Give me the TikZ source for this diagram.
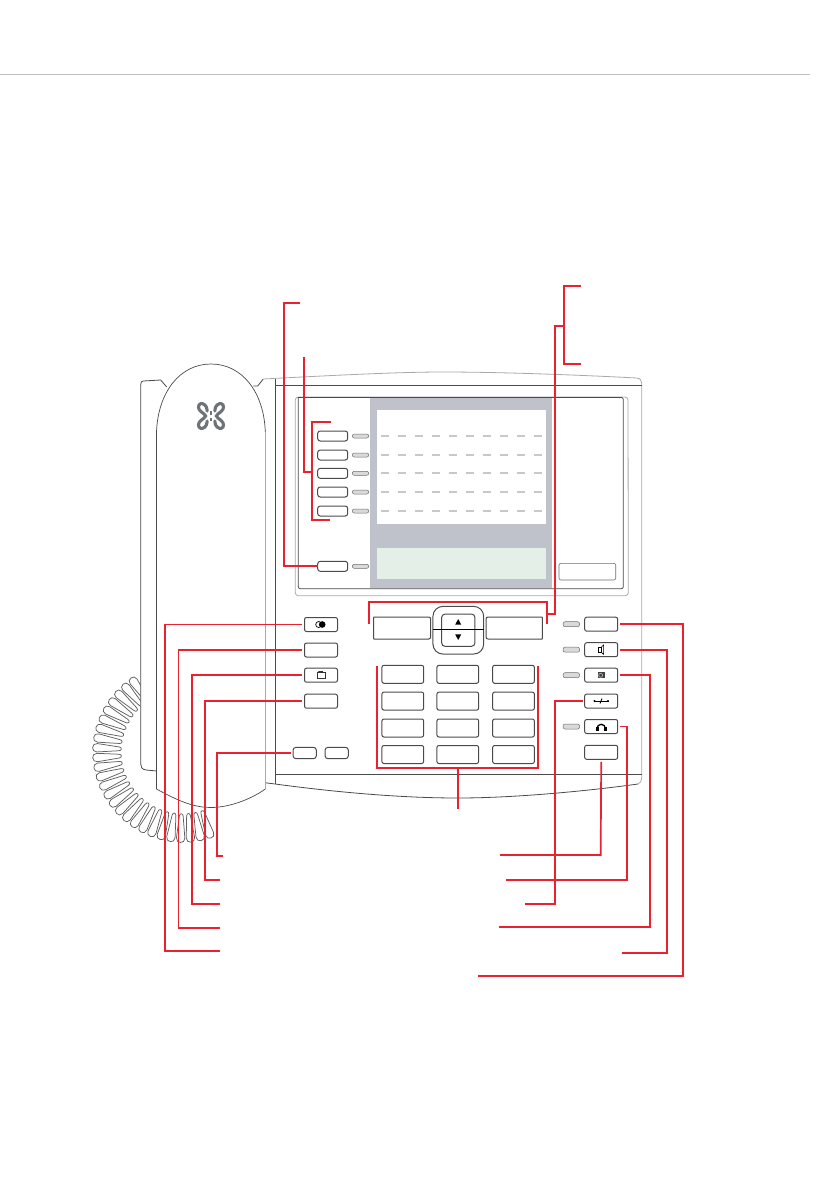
\documentclass[tikz,border=0pt]{standalone}
\definecolor{redl}{HTML}{E8232F}
\definecolor{ink}{HTML}{4A4A4A}
\definecolor{pale}{HTML}{A9A9A9}
\definecolor{screen}{HTML}{BFC1CB}
\definecolor{dashc}{HTML}{C6C8D0}
\definecolor{lcd}{HTML}{E3EFE7}
\definecolor{ledf}{HTML}{D9D9D9}
\definecolor{logoc}{HTML}{6D7378}
\tikzset{
  redline/.style={draw=redl,line width=1.7pt},
  outline/.style={draw=ink,line width=.8pt},
  paleline/.style={draw=pale,line width=.8pt},
  keybox/.style={draw=ink,line width=1pt,rounded corners=2pt,fill=white,inner sep=0pt,outer sep=0pt,minimum width=33pt,minimum height=14pt},
  padkey/.style={keybox,minimum width=41.7pt,minimum height=18pt},
  sidekey/.style={keybox,minimum width=30pt,minimum height=10pt,rounded corners=2.5pt},
  smallkey/.style={keybox,minimum width=23.3pt,minimum height=11.4pt,rounded corners=3pt},
  ledbox/.style={draw=ink!80,line width=.5pt,fill=ledf,rounded corners=2pt,inner sep=0pt,outer sep=0pt,minimum width=16.5pt,minimum height=4pt},
  ledwide/.style={ledbox,minimum height=5pt},
  dashrow/.style={draw=dashc,line width=1.8pt,dash pattern=on 8.3pt off 8.7pt},
  coilloop/.style={draw=black!62,line width=.75pt,fill=white},
  iconline/.style={draw=black,line width=.9pt},
  logoline/.style={draw=logoc,line width=3.1pt,line cap=round}
}
\begin{document}
\begin{tikzpicture}[x=1pt,y=-1pt]
\useasboundingbox (0,0) rectangle (839,1193);
\fill[white] (0,0) rectangle (839,1193);
\draw[draw=black!25,line width=.8pt] (0,74) -- (810,74);

% coiled cord
\foreach \a in {0,...,25}{
  \pgfmathsetmacro{\ang}{125+6.52*\a}
  \begin{scope}[shift={(183,752)},rotate=\ang]
    \draw[coilloop] (64,-1.9) -- (86,-4.2) .. controls (92,-4.7) and (92,4.7) .. (86,4.2) -- (64,1.9) .. controls (61,1.6) and (61,-1.6) .. (64,-1.9) -- cycle;
  \end{scope}
}

% body
\fill[white] (140.7,385) .. controls (140.7,382) and (141.5,381) .. (143.3,381) -- (160.7,380) -- (166.7,387) -- (253.3,386) -- (257.7,386) -- (263.3,379) .. controls (340,375) and (400,372) .. (443,372) .. controls (500,372) and (580,375) .. (636.7,378) .. controls (640,378.5) and (641.7,380) .. (641.7,383) -- (641.7,778) .. controls (641.7,781) and (640,783.5) .. (638,784) .. controls (580,792) and (510,798) .. (458,798) .. controls (390,798) and (320,790) .. (275,784) -- (265,782.7) -- (265,789) -- (156.5,789) -- (156.5,771) -- (146,770) .. controls (142,769.5) and (140.7,767) .. (140.7,764) -- cycle;
\draw[outline] (140.7,764) -- (140.7,385) .. controls (140.7,382) and (141.5,381) .. (143.3,381) -- (160.7,380) -- (166.7,387);
\draw[outline] (140.7,764) .. controls (140.7,767) and (142,769.5) .. (146,770) -- (156.5,771);
\draw[outline] (253.3,386) -- (257.7,386) -- (263.3,379);
\draw[paleline] (263.3,379) .. controls (340,375) and (400,372) .. (443,372) .. controls (500,372) and (580,375) .. (636.7,378);
\draw[paleline] (636.7,378) .. controls (640,378.5) and (641.7,380) .. (641.7,383) -- (641.7,778) .. controls (641.7,781) and (640,783.5) .. (638,784);
\draw[outline] (638,784) .. controls (580,792) and (510,798) .. (458,798) .. controls (390,798) and (320,790) .. (275,784) -- (265,782.7);
\draw[outline] (275.7,379) -- (275.7,784);
\draw[outline] (275.7,385.3) -- (641.7,385.3);
\draw[outline] (275.7,774.3) -- (641.7,774.3);

% handset
\fill[white] (156.5,432) .. controls (158,392) and (180,364) .. (211,364) .. controls (242,364) and (264,392) .. (265.3,432) -- (265.3,789) .. controls (250,800) and (228,807.5) .. (211,807.5) .. controls (195,807.5) and (180,802) .. (156.5,789) -- cycle;
\draw[outline,line width=.7pt] (156.5,789) -- (156.5,432) .. controls (158,392) and (180,364) .. (211,364) .. controls (242,364) and (264,392) .. (265.3,432);
\draw[paleline] (265.3,432) -- (265.3,789);
\draw[outline,line width=.7pt] (156.5,789) .. controls (180,802) and (195,807.5) .. (211,807.5) .. controls (228,807.5) and (250,800) .. (265.3,789);

% logo
\draw[logoline] (207.2,411) .. controls (207.2,405) and (203,403.2) .. (200.8,403.6) .. controls (197.6,404.6) and (198,409) .. (200.4,411) .. controls (203,413.5) and (205.6,414.5) .. (205.6,416) .. controls (205.6,417.5) and (203,418.5) .. (200.4,421) .. controls (198,423) and (197.6,427.4) .. (200.8,428.4) .. controls (203,428.8) and (207.2,427) .. (207.2,421);
\draw[logoline] (214.8,411) .. controls (214.8,405) and (219,403.2) .. (221.2,403.6) .. controls (224.4,404.6) and (224,409) .. (221.6,411) .. controls (219,413.5) and (216.4,414.5) .. (216.4,416) .. controls (216.4,417.5) and (219,418.5) .. (221.6,421) .. controls (224,423) and (224.4,427.4) .. (221.2,428.4) .. controls (219,428.8) and (214.8,427) .. (214.8,421);
\fill[logoc] (210,411) rectangle (212,414.5);
\fill[logoc] (210,417.5) rectangle (212,421);

% panel
\draw[paleline] (298,397) -- (625,397) arc[start angle=-90,end angle=0,radius=3] -- (628.3,592.7) arc[start angle=0,end angle=90,radius=3] -- (298.3,595.7) arc[start angle=90,end angle=180,radius=3] -- (295.3,400) arc[start angle=180,end angle=270,radius=3];
\draw[outline] (298.3,397.5) -- (298.3,586.7) arc[start angle=180,end angle=90,radius=2] -- (621.3,588.7) arc[start angle=90,end angle=0,radius=2] -- (623.3,399.5) arc[start angle=0,end angle=-90,radius=2] -- cycle;
\fill[screen] (370,397.5) rectangle (552,588.2);
\fill[white] (377,410) rectangle (546,524);
\fill[lcd] (377,548) rectangle (546,579);
\foreach \y in {436,455,473,492,511}{
  \draw[dashrow] (380.7,\y) -- (542,\y);
}
\draw[draw=ink!80,line width=.6pt,rounded corners=2pt] (559,563.3) rectangle (615.7,580);

% display side keys
\node[sidekey] (s1) at (332.7,436) {};
\node[sidekey] (s2) at (332.7,455) {};
\node[sidekey] (s3) at (332.7,473.3) {};
\node[sidekey] (s4) at (332.7,492) {};
\node[sidekey] (s5) at (332.7,511) {};
\node[sidekey] (s6) at (332.7,566.3) {};
\foreach \y in {436,455,473.3,492,511,566.3}{
  \node[ledbox] at (360.5,\y) {};
}

% soft keys and navigation
\draw[keybox] (430.7,617) -- (376,617) .. controls (374.5,617) and (373.7,618) .. (373.7,619.5) -- (373.7,636.5) .. controls (373.7,638) and (374.5,639) .. (376,639) -- (430.7,639) -- cycle;
\draw[keybox] (486,617) -- (540,617) .. controls (541.5,617) and (542.3,618) .. (542.3,619.5) -- (542.3,636.5) .. controls (542.3,638) and (541.5,639) .. (540,639) -- (486,639) -- cycle;
\node[keybox,rounded corners=10pt,minimum width=50.7pt,minimum height=47.7pt] (navo) at (458.3,630.2) {};
\node[keybox,rounded corners=3.5pt,minimum width=33.3pt,minimum height=32.3pt] (navi) at (458.3,630.2) {};
\draw[outline,draw=black,line width=.7pt] (navo.west |- 0,629.4) -- (navo.east |- 0,629.4);
\fill[black] (458.2,619) -- (461.2,624.6) -- (455.2,624.6) -- cycle;
\fill[black] (458.2,640) -- (461.2,634.4) -- (455.2,634.4) -- cycle;

% keypad
\node[padkey] (p11) at (402.8,674.3) {};
\node[padkey] (p12) at (457.8,674.3) {};
\node[padkey] (p13) at (513.5,674.3) {};
\node[padkey] (p21) at (402.8,701.1) {};
\node[padkey] (p22) at (457.8,701.1) {};
\node[padkey] (p23) at (513.5,701.1) {};
\node[padkey] (p31) at (402.8,728) {};
\node[padkey] (p32) at (457.8,728) {};
\node[padkey] (p33) at (513.5,728) {};
\node[padkey] (p41) at (402.8,754.5) {};
\node[padkey] (p42) at (457.8,754.5) {};
\node[padkey] (p43) at (513.5,754.5) {};

% left keys
\node[keybox] (l1) at (321,624.5) {};
\node[keybox] (l2) at (321,650) {};
\node[keybox] (l3) at (321,675.2) {};
\node[keybox] (l4) at (321,701.2) {};
\node[smallkey] (l5) at (304.7,753) {};
\node[smallkey] (l6) at (336.7,753) {};

% right keys
\node[keybox] (r1) at (601.2,624.2) {};
\node[keybox] (r2) at (601.2,649.7) {};
\node[keybox] (r3) at (601.2,675.2) {};
\node[keybox] (r4) at (601.2,701) {};
\node[keybox] (r5) at (601.2,726.5) {};
\node[keybox] (r6) at (601.2,752.3) {};
\node[ledwide] at (571.3,624.2) {};
\node[ledwide] at (571.3,649.7) {};
\node[ledwide] at (571.3,675.2) {};
\node[ledwide] at (571.3,726.5) {};

% key icons
\draw[iconline,line width=.7pt] (318.7,624.5) circle[radius=3];
\fill[black] (322.2,624.5) circle[radius=3.3];
\draw[draw=black!80,line width=.7pt] (317,672.8) rectangle (325.4,678);
\draw[draw=black!80,line width=.7pt] (318.2,672.8) -- (318.8,671.4) -- (322.5,671.4) -- (323,672.8);
\draw[iconline,line width=.8pt] (598.5,647.4) rectangle (601,652);
\draw[iconline,line width=.6pt] (601,647.4) -- (603.6,645) -- (603.6,654.4) -- (601,652);
\fill[black!75] (598,672.2) rectangle (604.6,678.4);
\draw[black!30,line width=.7pt] (600.6,675.3) circle[radius=2];
\draw[iconline,line width=.6pt] (594,701) -- (608.5,701);
\fill[black] (594.5,701) circle[radius=1.1] (608,701) circle[radius=1.1];
\draw[iconline,line width=.9pt] (600,703.4) -- (602,698.6);
\draw[iconline,line width=1.3pt] (597,728.5) arc[start angle=180,end angle=360,radius=4.2];
\fill[black] (595.8,726.6) rectangle (598.6,731);
\fill[black] (603.8,726.6) rectangle (606.6,731);

% free ends of the connectors
\coordinate (tl) at (300,303);
\coordinate (tlb) at (284.3,303);
\coordinate (tm) at (303.7,357);
\coordinate (brT) at (330.7,422.3);
\coordinate (brTb) at (311.7,422.3);
\coordinate (brB) at (330,519.7);
\coordinate (brBb) at (311.7,519.7);
\coordinate (brM) at (311.7,472);
\coordinate (trT) at (581,286);
\coordinate (trTb) at (564,286);
\coordinate (trB) at (581,364);
\coordinate (trBb) at (564,364);
\coordinate (trM) at (564,325.7);
\coordinate (skL) at (369,624.3);
\coordinate (skLb) at (369,601.7);
\coordinate (skR) at (546.7,624.3);
\coordinate (skRb) at (546.7,601.7);
\coordinate (skM) at (546.7,614.3);
\coordinate (padTL) at (377.3,665.7);
\coordinate (padBL) at (377.3,768.3);
\coordinate (padTR) at (538.3,665.7);
\coordinate (padBR) at (538.3,768.3);
\coordinate (padS) at (458,768.3);
\coordinate (padE) at (458,809);
\coordinate (eL1) at (220,951);
\coordinate (bL1) at (165.3,951);
\coordinate (eL2) at (220,928);
\coordinate (bL2) at (178.5,928);
\coordinate (eL3) at (220,904);
\coordinate (bL3) at (191.7,904);
\coordinate (eL4) at (220,880);
\coordinate (bL4) at (204.7,880);
\coordinate (eL5) at (223,856);
\coordinate (bL5) at (217,856);
\coordinate (eR1) at (478,976);
\coordinate (bR1) at (683,976);
\coordinate (eR2) at (622,953);
\coordinate (bR2) at (667,953);
\coordinate (eR3) at (499,927);
\coordinate (bR3) at (650,927);
\coordinate (eR4) at (525,904);
\coordinate (bR4) at (554.7,904);
\coordinate (eR5) at (506,880);
\coordinate (bR5) at (627.3,880);
\coordinate (eR6) at (500,855);
\coordinate (bR6) at (600.7,855);

% connectors
\draw[redline] (tl) -- (tlb) |- ([xshift=-.2pt]s6.west);
\draw[redline] (tm) |- (brM);
\draw[redline] (brT) -- (brTb) -- (brBb) -- (brB);
\draw[redline] (trT) -- (trTb) -- (trBb) -- (trB);
\draw[redline] (trM) -| (skM -| 555,0) |- (skM);
\draw[redline] (skL) -- (skLb) -- (skRb) -- (skR);
\draw[redline] (padTL) -- (padBL) -- (padBR) -- (padTR);
\draw[redline] (padS) -- (padE);
\draw[redline] ([xshift=-3pt]l1.west) -| (bL1) -- (eL1);
\draw[redline] ([xshift=-3pt]l2.west) -| (bL2) -- (eL2);
\draw[redline] ([xshift=-3pt]l3.west) -| (bL3) -- (eL3);
\draw[redline] ([xshift=-3pt]l4.west) -| (bL4) -- (eL4);
\draw[redline] ([xshift=-2.5pt]l5.west) -| (bL5) -- (eL5);
\draw[redline] ([xshift=2pt]r1.east) -| (bR1) -- (eR1);
\draw[redline] ([xshift=2pt]r2.east) -| (bR2) -- (eR2);
\draw[redline] ([xshift=2pt]r3.east) -| (bR3) -- (eR3);
\draw[redline] ([xshift=-2pt]r4.west) -| (bR4) -- (eR4);
\draw[redline] ([xshift=2pt]r5.east) -| (bR5) -- (eR5);
\draw[redline] ([yshift=-2.5pt]r6.south) -- (bR6) -- (eR6);
\end{tikzpicture}
\end{document}
